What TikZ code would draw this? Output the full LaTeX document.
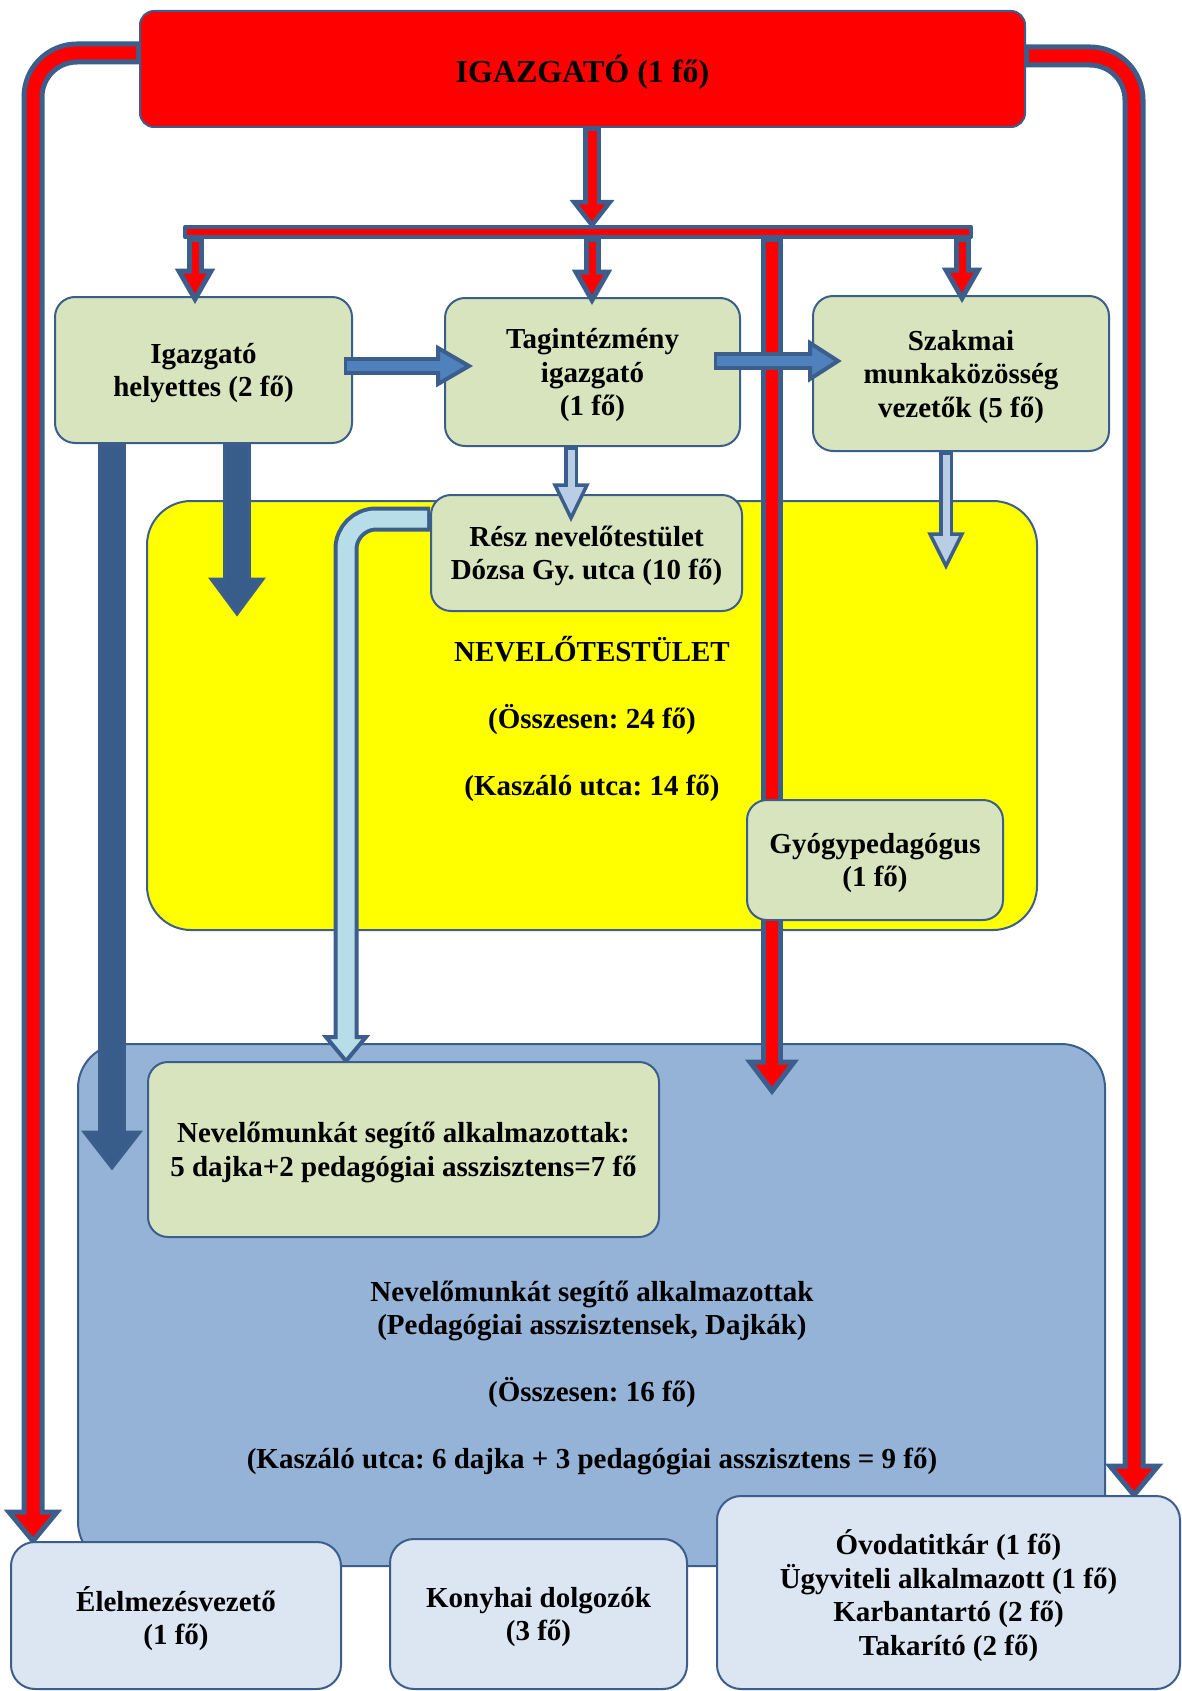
\documentclass[tikz,border=0pt]{standalone}
\usepackage{fontspec}
\setmainfont{Liberation Serif}
\usetikzlibrary{calc}
\frenchspacing
\definecolor{arrline}{HTML}{3C5E8C}
\definecolor{boxgreen}{HTML}{D7E4BD}
\definecolor{staffyellow}{HTML}{FFFF00}
\definecolor{bossred}{HTML}{FF0000}
\definecolor{regionblue}{HTML}{95B3D7}
\definecolor{boxpale}{HTML}{DCE6F2}
\definecolor{darkarrow}{HTML}{385D8A}
\definecolor{midarrow}{HTML}{4F81BD}
\definecolor{palearrow}{HTML}{B9CDE5}
\definecolor{bentarrow}{HTML}{B7DEE8}
\pgfdeclarelayer{back}
\pgfdeclarelayer{mid}
\pgfsetlayers{back,mid,main}
% fill, outer width, inner width, head half width, path to head base, head base, tip
\newcommand{\blockarrow}[7]{%
  \draw[arrline, line width=#2] #5;
  \filldraw[arrline, fill=#1, line width={(#2-#3)/2}, line join=miter]
    ($(#6)!#4!90:(#7)$) -- (#7) -- ($(#6)!#4!-90:(#7)$) -- cycle;
  \draw[#1, line width=#3, shorten <=1.5pt, shorten >=-3pt] #5;
}
\tikzset{
  unit/.style={draw=arrline, line width=1pt, fill=boxgreen, rounded corners=10pt, align=center, inner sep=0pt},
  service/.style={unit, fill=boxpale, rounded corners=12pt},
  region/.style={draw=arrline, line width=1pt, rounded corners=22pt, inner sep=0pt, align=center},
  boxsize/.style 2 args={minimum width=#1*0.5pt, minimum height=#2*0.5pt},
}
\begin{document}
\begin{tikzpicture}[x=0.5pt, y=-0.5pt, line join=round, every node/.style={text depth=0pt},
    font=\bfseries\fontsize{14.5}{16.75}\selectfont]
    \useasboundingbox (0,0) rectangle (1182,1691);
    \begin{pgfonlayer}{back}
        \node[region, fill=staffyellow, boxsize={890}{429}] (staff) at (592,715.5)
            {NEVELŐTESTÜLET\\[16.75pt](Összesen: 24 fő)\\[16.75pt](Kaszáló utca: 14 fő)};
        \node[region, fill=regionblue, boxsize={1027}{522}] (aides) at (591.5,1305) {};
    \end{pgfonlayer}
    \node[draw=arrline, line width=1pt, fill=bossred, rounded corners=7pt, boxsize={885}{116},
        font=\bfseries\fontsize{16}{19}\selectfont] (boss) at (582.5,69) {IGAZGATÓ (1 fő)};
    \node[unit, boxsize={297}{146}] (dep) at (203.5,370) {Igazgató\\helyettes (2 fő)};
    \node[unit, boxsize={295}{148}] (branch) at (592.5,372) {Tagintézmény\\igazgató\\(1 fő)};
    \node[unit, boxsize={296}{155}] (prof) at (961,373.5) {Szakmai\\munkaközösség\\vezetők (5 fő)};
    \node[unit, boxsize={311}{116}] (part) at (586.5,553) {Rész nevelőtestület\\Dózsa Gy. utca (10 fő)};
    \node[unit, boxsize={256}{120}] (special) at (875,860) {Gyógypedagógus\\(1 fő)};
    \node[unit, boxsize={511}{175}] (aidesbox) at (403.5,1149.5)
        {Nevelőmunkát segítő alkalmazottak:\\5 dajka+2 pedagógiai asszisztens=7 fő};
    \node[align=center] (aidestext) at (592,1375)
        {Nevelőmunkát segítő alkalmazottak\\(Pedagógiai asszisztensek, Dajkák)\\[16.75pt](Összesen: 16 fő)\\[16.75pt](Kaszáló utca: 6 dajka + 3 pedagógiai asszisztens = 9 fő)};
    \node[service, boxsize={330}{147}] (food) at (176,1615.5) {Élelmezésvezető\\(1 fő)};
    \node[service, boxsize={297}{150}] (kitchen) at (538.5,1614) {Konyhai dolgozók\\(3 fő)};
    \node[service, boxsize={463}{193}] (office) at (948.5,1592.5)
        {Óvodatitkár (1 fő)\\Ügyviteli alkalmazott (1 fő)\\Karbantartó (2 fő)\\Takarító (2 fő)};

    \begin{pgfonlayer}{mid}
        \coordinate (lfbase) at (33,1512);
        \coordinate (lftip) at (food.north -| 33,0);
        \blockarrow{bossred}{11.5pt}{6.5pt}{12pt}{(boss.west |- 0,53) [rounded corners=22pt] -- (33,53) -- (lfbase)}{lfbase}{lftip}
        \coordinate (rtbase) at (1134,1466);
        \coordinate (rttip) at (office.north -| 1134,0);
        \blockarrow{bossred}{11.5pt}{6.5pt}{12pt}{(boss.east |- 0,56) [rounded corners=22pt] -- (1134,56) -- (rtbase)}{rtbase}{rttip}
        \coordinate (vbase) at (772,1062);
        \coordinate (vtip) at (772,1091);
        \blockarrow{bossred}{11pt}{6pt}{11pt}{(772,239) -- (vbase)}{vbase}{vtip}
        \coordinate (bbase) at (346,1037);
        \coordinate (btip) at (aidesbox.north -| 346,0);
        \blockarrow{bentarrow}{12.5pt}{8.5pt}{10pt}{(part.west |- 0,519) [rounded corners=15pt] -- (346,519) -- (bbase)}{bbase}{btip}
    \end{pgfonlayer}

    \coordinate (cbase) at (592,202);
    \coordinate (ctip) at (592,225);
    \blockarrow{bossred}{9pt}{4.5pt}{9pt}{(boss.south -| 592,0) -- (cbase)}{cbase}{ctip}
    \coordinate (barL) at (185,232);
    \coordinate (barR) at (971,232);
    \filldraw[arrline, fill=bossred, line width=2pt] ($(barL)+(0,-5)$) rectangle ($(barR)+(0,5)$);
    \foreach \tgt/\xx in {dep/195, branch/592, prof/962}{
        \coordinate (stip) at ($(\tgt.north -| \xx,0)+(0,3)$);
        \coordinate (sbase) at ($(stip)+(0,-28)$);
        \blockarrow{bossred}{8.5pt}{3.5pt}{8pt}{(\xx,239) -- (sbase)}{sbase}{stip}
    }

    \coordinate (d1base) at (237,579);
    \coordinate (d1tip) at (237,614);
    \blockarrow{darkarrow}{14pt}{11pt}{13pt}{(dep.south -| 237,0) -- (d1base)}{d1base}{d1tip}
    \coordinate (d2base) at (112,1132);
    \coordinate (d2tip) at (112,1168);
    \blockarrow{darkarrow}{14pt}{11pt}{14pt}{(dep.south -| 112,0) -- (d2base)}{d2base}{d2tip}

    \coordinate (p1base) at (571,485);
    \coordinate (p1tip) at (571,518);
    \blockarrow{palearrow}{7pt}{3.5pt}{8pt}{(branch.south -| 571,0) -- (p1base)}{p1base}{p1tip}
    \coordinate (p2base) at (946,534);
    \coordinate (p2tip) at (946,566);
    \blockarrow{palearrow}{7pt}{3.5pt}{8pt}{(prof.south -| 946,0) -- (p2base)}{p2base}{p2tip}

    \coordinate (h1base) at (438,366);
    \coordinate (h1tip) at (469,366);
    \blockarrow{midarrow}{9pt}{5pt}{9pt}{($(dep.east)+(-9,-4)$) -- (h1base)}{h1base}{h1tip}
    \coordinate (h2base) at (810,361);
    \coordinate (h2tip) at (838,361);
    \blockarrow{midarrow}{9pt}{5pt}{9pt}{($(branch.east)+(-27,-11)$) -- (h2base)}{h2base}{h2tip}
\end{tikzpicture}
\end{document}
